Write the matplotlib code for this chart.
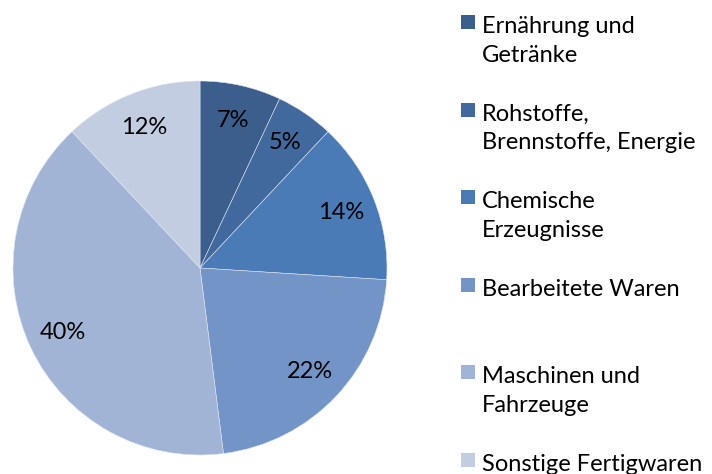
import matplotlib
matplotlib.use("Agg")
import matplotlib.pyplot as plt
from matplotlib.patches import Rectangle

plt.rcParams['font.family'] = ['Lato', 'DejaVu Sans']

categories = ["Ernährung und\nGetränke",
              "Rohstoffe,\nBrennstoffe, Energie",
              "Chemische\nErzeugnisse",
              "Bearbeitete Waren",
              "Maschinen und\nFahrzeuge",
              "Sonstige Fertigwaren"]
shares = [7, 5, 14, 22, 40, 12]
colors = ["#3B5E8C", "#41699E", "#4A7BB6", "#7394C6", "#A2B4D5", "#C3CDE2"]

W, H = 712, 474
fig = plt.figure(figsize=(W / 100, H / 100), dpi=100)

# pie centre (200, 268) px, radius 187 px
cx, cy, r = 200, 268, 187
ax = fig.add_axes([(cx - r) / W, (H - cy - r) / H, 2 * r / W, 2 * r / H])
wedges, texts = ax.pie(shares, colors=colors, startangle=90, counterclock=False,
                       labels=[f"{v}%" for v in shares], labeldistance=0.81,
                       wedgeprops=dict(edgecolor="#DDE4EF", linewidth=0.4),
                       textprops=dict(fontsize=17, ha="center", va="center"))
ax.set_xlim(-1, 1)
ax.set_ylim(-1, 1)
ax.set_aspect("equal")
ax.axis("off")

# legend, one slot per entry, lines placed on their baselines
for i, (lab, col) in enumerate(zip(categories, colors)):
    base = 33 + 87.6 * i
    fig.patches.append(Rectangle((461 / W, 1 - (base - 4) / H), 14 / W, 14 / H,
                                 transform=fig.transFigure, facecolor=col,
                                 edgecolor="none"))
    for j, line in enumerate(lab.split("\n")):
        fig.text(482 / W, 1 - (base + 28.5 * j) / H, line, fontsize=17,
                 va="baseline", ha="left")

fig.savefig("out.png", dpi=100)
